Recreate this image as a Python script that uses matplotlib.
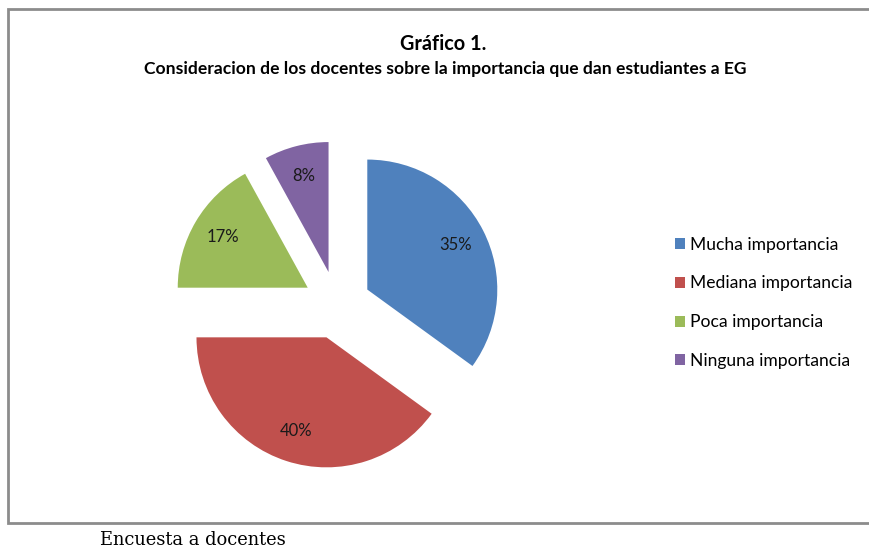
import matplotlib
matplotlib.use('Agg')
import matplotlib.pyplot as plt
from matplotlib.patches import Rectangle

categories = ['Mucha importancia', 'Mediana importancia',
              'Poca importancia', 'Ninguna importancia']
values = [35, 40, 17, 8]
colors = ['#4F81BD', '#C0504D', '#9BBB59', '#8064A2']

W, H = 870, 548
fig = plt.figure(figsize=(W / 100, H / 100), dpi=100)
ax = fig.add_axes([0, 0, 1, 1])

# chart frame
ax.add_patch(Rectangle((8, H - 523), 862, 514, fill=False,
                       edgecolor='#8c8c8c', linewidth=2))

# explode is in data units here (pixels)
wedges, texts, autotexts = ax.pie(
  values, colors=colors, startangle=90, counterclock=False,
  explode=[34] * 4, radius=130, center=(337, H - 305),
  autopct='%d%%', pctdistance=0.76, frame=True,
  wedgeprops={'linewidth': 0},
  textprops={'fontsize': 12, 'family': 'Lato', 'color': '#1a1a1a'})
ax.set_xlim(0, W)
ax.set_ylim(0, H)
ax.set_aspect('equal')
ax.axis('off')

fig.text(443 / W, 1 - 44 / H, 'Gráfico 1.', ha='center', va='center',
         fontsize=14.3, fontweight='bold', family='Lato')
fig.text(445 / W, 1 - 69 / H,
         'Consideracion de los docentes sobre la importancia que dan estudiantes a EG',
         ha='center', va='center', fontsize=12.6, fontweight='bold', family='Lato')

leg = fig.legend(wedges, categories, loc='upper left',
                 bbox_to_anchor=(659 / W, 1 - 221 / H), frameon=False,
                 prop={'family': 'Lato', 'size': 12.6}, handlelength=0.6,
                 handleheight=0.6, handletextpad=0.3, labelspacing=1.3)

fig.text(100 / W, 1 - 540 / H, 'Encuesta a docentes', ha='left', va='center',
         fontsize=12.9, family='DejaVu Serif')

fig.savefig('out.png', dpi=100)
